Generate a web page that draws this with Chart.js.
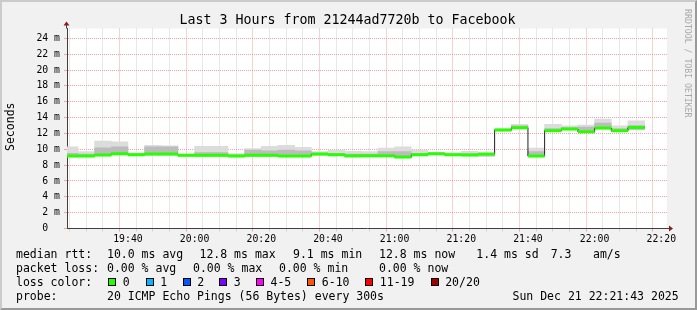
<!DOCTYPE html>
<html>
<head>
<meta charset="utf-8">
<script src="https://cdn.jsdelivr.net/npm/chart.js@4.4.1/dist/chart.umd.min.js"></script>
<style>
  html, body { margin: 0; padding: 0; }
  body { width: 697px; height: 310px; position: relative; overflow: hidden; background: #f1f1f1;
         font-family: "DejaVu Sans Mono", monospace; color: #000; }
  #frame { position: absolute; left: 0; top: 0; width: 697px; height: 310px; box-sizing: border-box;
           border: 2px solid; border-color: #cbcbcb #999 #999 #cbcbcb; pointer-events: none; }
  canvas { position: absolute; left: 0; top: 0; }
  .t { position: absolute; white-space: pre; line-height: 1; }
  .leg { font-size: 11.5px; }
  .box { position: absolute; width: 8px; height: 8px; box-sizing: border-box; border: 1px solid #000; }
</style>
</head>
<body>
<canvas id="grafico" width="697" height="310"></canvas>
<div id="frame"></div>
<div class="t" style="left:-1px;width:697px;text-align:center;top:12.7px;font-size:13.3px">Last 3 Hours from 21244ad7720b to Facebook</div>
<div class="t" style="left:-19.5px;top:120.7px;width:60px;text-align:center;font-size:11.5px;transform:rotate(-90deg)">Seconds</div>
<div class="t" style="left:637.5px;top:55px;width:100px;text-align:center;font-size:8.2px;color:#a8a8a8;transform:rotate(90deg)">RRDTOOL / TOBI OETIKER</div>
<div id="legenda"></div>
<script>
// time window of the graph (3 hours)
const windowStart = "19:21:43";
const windowEnd   = "22:21:43";

// 5 minute slots, start time of each one
const slotStart = ["19:20","19:25","19:30","19:35","19:40","19:45","19:50","19:55",
                   "20:00","20:05","20:10","20:15","20:20","20:25","20:30","20:35",
                   "20:40","20:45","20:50","20:55","21:00","21:05","21:10","21:15",
                   "21:20","21:25","21:30","21:35","21:40","21:45","21:50","21:55",
                   "22:00","22:05","22:10"];
const lastSlotEnd = "22:15";

// median rtt (ms), all slots with 0 loss
const medianRtt = [9.16, 9.16, 9.28, 9.45, 9.32, 9.40, 9.40, 9.24,
                   9.24, 9.24, 9.16, 9.24, 9.24, 9.16, 9.16, 9.40,
                   9.32, 9.20, 9.20, 9.20, 9.03, 9.32, 9.45, 9.32,
                   9.28, 9.40, 12.43, 12.73, 9.16, 12.35, 12.55, 12.22,
                   12.68, 12.35, 12.76];
// smoke: full spread of the pings
const smokeLow  = [9.05, 9.05, 9.15, 9.30, 9.20, 9.25, 9.25, 9.10,
                   9.10, 9.10, 9.05, 9.10, 9.10, 9.05, 9.05, 9.25,
                   9.20, 9.00, 9.05, 9.05, 8.90, 9.20, 9.35, 9.20,
                   9.15, 9.10, 12.30, 12.60, 9.05, 12.25, 12.45, 12.10,
                   12.55, 12.25, 12.45];
const smokeHigh = [10.30, 9.70, 11.05, 10.95, 9.55, 10.50, 10.45, 9.40,
                   10.38, 10.38, 9.45, 10.10, 10.38, 10.50, 10.25, 9.70,
                   9.90, 9.75, 9.70, 10.15, 10.30, 9.90, 9.60, 9.60,
                   9.75, 9.50, 12.60, 13.15, 10.15, 13.15, 12.97, 13.05,
                   13.80, 12.97, 13.60];
// smoke: denser inner part
const coreLow   = [9.10, 9.10, 9.20, 9.35, 9.25, 9.30, 9.30, 9.15,
                   9.15, 9.15, 9.10, 9.15, 9.15, 9.10, 9.10, 9.30,
                   9.25, 9.05, 9.10, 9.10, 8.95, 9.25, 9.40, 9.25,
                   9.20, 9.15, 12.35, 12.65, 9.10, 12.30, 12.50, 12.15,
                   12.60, 12.30, 12.50];
const coreHigh  = [9.50, 9.40, 10.20, 10.30, 9.45, 10.30, 10.30, 9.35,
                   9.60, 9.60, 9.30, 9.90, 9.80, 9.90, 9.80, 9.50,
                   9.50, 9.40, 9.40, 9.70, 9.70, 9.50, 9.52, 9.40,
                   9.45, 9.45, 12.50, 12.95, 9.70, 12.60, 12.75, 12.80,
                   13.30, 12.60, 13.00];

const yMax = 25.25;
const xTickLabels = ["19:40","20:00","20:20","20:40","21:00","21:20","21:40","22:00","22:20"];

// legend
const lossLabels = ["0", "1", "2", "3", "4-5", "6-10", "11-19", "20/20"];
const lossColors = ["#26ff00", "#00b8ff", "#0059ff", "#7e00ff", "#ff00ff", "#ff5500", "#ff0000", "#a10000"];
const lossBoxX   = [108.3, 145.7, 182.7, 219.3, 256, 307.3, 365.3, 430.7];
const rttStats   = ["10.0 ms avg", "12.8 ms max", "9.1 ms min", "12.8 ms now", "1.4 ms sd", "7.3", "am/s"];
const rttStatsX  = [107, 199.5, 293, 379, 476.3, 550.7, 593];
const lossStats  = ["0.00 % avg", "0.00 % max", "0.00 % min", "0.00 % now"];
const lossStatsX = [107, 193, 279, 379];
const probeText  = "20 ICMP Echo Pings (56 Bytes) every 300s";
const dateText   = "Sun Dec 21 22:21:43 2025";

const majorGrid = "#f2a3a3";
const minorGrid = "#d2d2d2";

function minutos(s) { // minutes after 19:00
  const [h, m, sec] = s.split(":").map(Number);
  return (h - 19) * 60 + m + (sec || 0) / 60;
}

const xMin = minutos(windowStart);
const xMax = minutos(windowEnd);
const inicios = slotStart.map(minutos);
const fins = inicios.slice(1).concat([minutos(lastSlotEnd)]);

const linhaMediana = inicios.map((x, i) => ({ x, y: medianRtt[i] }));
linhaMediana.push({ x: fins[fins.length - 1], y: medianRtt[medianRtt.length - 1] });

const segVerde = [];
inicios.forEach((x, i) => {
  segVerde.push({ x, y: medianRtt[i] }, { x: fins[i], y: medianRtt[i] }, { x: fins[i], y: null });
});

const barrasFumaca = inicios.map((x, i) => ({ x: (x + fins[i]) / 2, y: [smokeLow[i], smokeHigh[i]] }));
const barrasNucleo = inicios.map((x, i) => ({ x: (x + fins[i]) / 2, y: [coreLow[i], coreHigh[i]] }));

const xGrade = [];
for (let v = Math.ceil(xMin / 5) * 5; v <= xMax; v += 5) xGrade.push(v);
const yGrade = [];
for (let v = 0; v <= Math.floor(yMax); v++) yGrade.push(v);

const fundoBranco = {
  id: "fundoBranco",
  beforeDraw(chart) {
    const { ctx, chartArea: a } = chart;
    ctx.save();
    ctx.fillStyle = "#fff";
    ctx.fillRect(a.left, a.top, a.right - a.left, a.bottom - a.top);
    ctx.restore();
  }
};

const setas = {
  id: "setas",
  afterDraw(chart) {
    const { ctx, chartArea: a } = chart;
    const x0 = Math.round(a.left) - 0.5, y0 = Math.round(a.bottom) - 0.5;
    ctx.save();
    ctx.strokeStyle = "#404040";
    ctx.lineWidth = 1;
    ctx.beginPath();
    ctx.moveTo(x0, a.top); ctx.lineTo(x0, a.top - 4);
    ctx.moveTo(a.right, y0); ctx.lineTo(a.right + 3, y0);
    ctx.stroke();
    ctx.fillStyle = "#8b1c1c";
    ctx.beginPath();
    ctx.moveTo(x0 - 3, a.top - 3); ctx.lineTo(x0 + 3, a.top - 3); ctx.lineTo(x0, a.top - 7); ctx.closePath();
    ctx.moveTo(a.right + 2, y0 - 3); ctx.lineTo(a.right + 2, y0 + 3); ctx.lineTo(a.right + 6, y0); ctx.closePath();
    ctx.fill();
    ctx.restore();
  }
};

Chart.defaults.font.family = "'DejaVu Sans Mono', monospace";
Chart.defaults.color = "#000";

new Chart(document.getElementById("grafico"), {
  type: "bar",
  data: {
    datasets: [
      { type: "line", label: "median", data: linhaMediana, stepped: true, borderColor: "#202020",
        borderWidth: 1, pointRadius: 0, order: 1 },
      { type: "line", label: "0", data: segVerde, borderColor: lossColors[0], borderWidth: 3,
        pointRadius: 0, spanGaps: false, order: 0 },
      { label: "core", data: barrasNucleo, backgroundColor: "#bcbcbc", grouped: false,
        barPercentage: 1, categoryPercentage: 1, order: 2 },
      { label: "smoke", data: barrasFumaca, backgroundColor: "#dcdcdc", grouped: false,
        barPercentage: 1, categoryPercentage: 1, order: 3 }
    ]
  },
  options: {
    responsive: false,
    animation: false,
    events: [],
    layout: { padding: { left: 0, right: 30, top: 28.5, bottom: 61.5 } },
    plugins: { legend: { display: false }, tooltip: { enabled: false } },
    scales: {
      x: {
        type: "linear", min: xMin, max: xMax, offset: false,
        afterBuildTicks: (ax) => { ax.ticks = xGrade.map((value) => ({ value })); },
        afterFit: (ax) => { ax.height = 20; },
        grid: {
          color: (c) => (c.tick && c.tick.value % 20 === 0 ? majorGrid : minorGrid),
          tickColor: (c) => (c.tick && c.tick.value % 20 === 0 ? majorGrid : minorGrid),
          drawTicks: true, tickLength: 3
        },
        border: { color: "#404040", width: 1, dash: [1, 1] },
        ticks: {
          autoSkip: false, maxRotation: 0, padding: 2, font: { size: 9.8 },
          callback: (v) => xTickLabels.find((l) => minutos(l) === v) || ""
        }
      },
      y: {
        min: 0, max: yMax,
        afterBuildTicks: (ax) => { ax.ticks = yGrade.map((value) => ({ value })); },
        afterFit: (ax) => { ax.width = 67; },
        grid: {
          color: (c) => (c.tick && c.tick.value % 2 === 0 ? majorGrid : minorGrid),
          tickColor: (c) => (c.tick && c.tick.value % 2 === 0 ? majorGrid : minorGrid),
          drawTicks: true, tickLength: 3
        },
        border: { color: "#404040", width: 1, dash: [1, 1] },
        ticks: {
          padding: 4, font: { size: 9.8 },
          callback: (v) => (v % 2 !== 0 ? "" : v === 0 ? "0  " : v + " m")
        }
      }
    }
  },
  plugins: [fundoBranco, setas]
});

// legend rows (rrdtool style)
function texto(str, x, baseline, extra) {
  const d = document.createElement("div");
  d.className = "t leg";
  d.textContent = str;
  d.style.left = x + "px";
  d.style.top = (baseline - 9.73) + "px";
  if (extra) Object.assign(d.style, extra);
  document.getElementById("legenda").appendChild(d);
}
const linhas = [258.3, 272.3, 286.3, 300.3];
texto("median rtt:", 16, linhas[0]);
rttStats.forEach((s, i) => texto(s, rttStatsX[i], linhas[0]));
texto("packet loss:", 16, linhas[1]);
lossStats.forEach((s, i) => texto(s, lossStatsX[i], linhas[1]));
texto("loss color:", 16, linhas[2]);
lossLabels.forEach((s, i) => {
  const b = document.createElement("div");
  b.className = "box";
  b.style.left = lossBoxX[i] + "px";
  b.style.top = (linhas[2] - 8) + "px";
  b.style.background = lossColors[i];
  document.getElementById("legenda").appendChild(b);
  texto(s, lossBoxX[i] + 14.5, linhas[2]);
});
texto("probe:", 16, linhas[3]);
texto(probeText, 107, linhas[3]);
texto(dateText, 512.5, linhas[3]);
</script>
</body>
</html>
